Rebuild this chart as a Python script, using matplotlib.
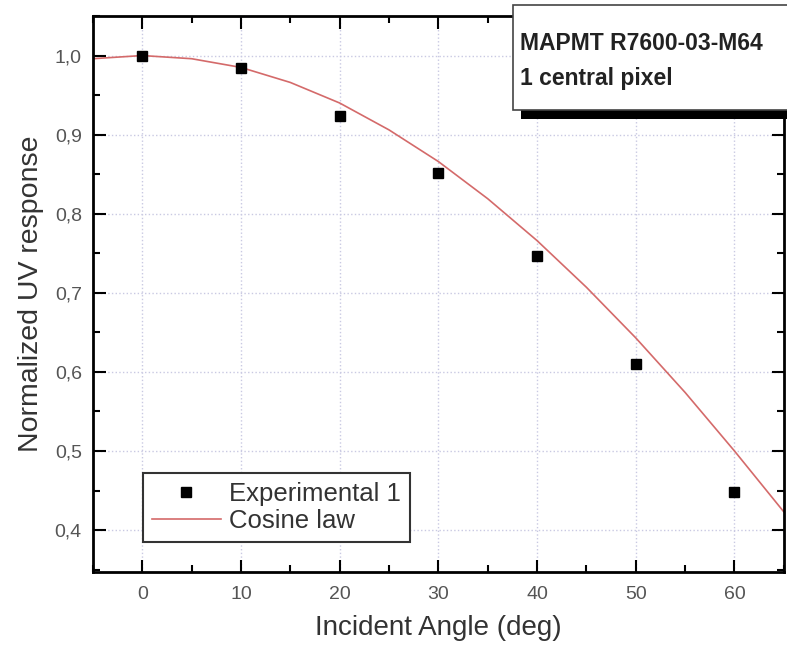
import matplotlib.pyplot as plt
from matplotlib.patches import Rectangle
from matplotlib.ticker import MultipleLocator, FuncFormatter

plt.rcParams['font.family'] = ['Liberation Sans', 'DejaVu Sans']

# measured points
angle = [0, 10, 20, 30, 40, 50, 60]
response = [1.0, 0.984, 0.924, 0.852, 0.746, 0.610, 0.448]

# cosine law curve
law_angle = [-5, 0, 5, 10, 15, 20, 25, 30, 35, 40, 45, 50, 55, 60, 65]
law_resp = [0.996, 1.0, 0.996, 0.985, 0.966, 0.940, 0.906, 0.866, 0.819,
            0.766, 0.707, 0.643, 0.574, 0.500, 0.423]

fig = plt.figure(figsize=(7.87, 6.53), dpi=100)
ax = fig.add_axes([0.118, 0.124, 0.878, 0.8515])

ax.plot(law_angle, law_resp, color='#d46a6a', lw=1.2, label='Cosine law', zorder=2)
ax.plot(angle, response, 's', color='black', ms=7.8, label='Experimental 1', zorder=3)

ax.set_xlim(-5, 65)
ax.set_ylim(0.347, 1.05)
ax.xaxis.set_major_locator(MultipleLocator(10))
ax.xaxis.set_minor_locator(MultipleLocator(5))
ax.yaxis.set_major_locator(MultipleLocator(0.1))
ax.yaxis.set_minor_locator(MultipleLocator(0.05))
ax.yaxis.set_major_formatter(FuncFormatter(lambda v, p: ('%.1f' % v).replace('.', ',')))

ax.grid(True, which='major', color='#c9c9e2', ls=':', lw=1.0)
ax.tick_params(which='both', direction='in', top=True, right=True,
               labelsize=14, labelcolor='#555555', width=1.5)
ax.tick_params(axis='x', pad=10)
ax.tick_params(axis='y', pad=8)
ax.tick_params(which='major', length=9)
ax.tick_params(which='minor', length=5)
for s in ax.spines.values():
    s.set_linewidth(2)

ax.set_xlabel('Incident Angle (deg)', fontsize=20, color='#333333', labelpad=9)
ax.set_ylabel('Normalized UV response', fontsize=20.5, color='#333333', labelpad=8)

leg = ax.legend(handles=ax.get_lines()[::-1], loc='lower left',
                bbox_to_anchor=(0.072, 0.054), fancybox=False, fontsize=18.5,
                edgecolor='#333333', framealpha=1, borderaxespad=0,
                handlelength=2.7, handletextpad=0.3, labelspacing=0.1,
                borderpad=0.35, numpoints=1)
leg.get_frame().set_linewidth(1.5)
for t in leg.get_texts():
    t.set_color('#333333')

# info box with drop shadow, in figure pixels
W, H = 787.0, 653.0
fig.patches.append(Rectangle((521 / W, 1 - 119 / H), 300 / W, 105 / H,
                             transform=fig.transFigure, facecolor='black',
                             edgecolor='none', zorder=5))
fig.patches.append(Rectangle((513 / W, 1 - 110 / H), 300 / W, 105 / H,
                             transform=fig.transFigure, facecolor='white',
                             edgecolor='#444444', lw=1.2, zorder=6))
fig.text(520 / W, 1 - 43 / H, 'MAPMT R7600-03-M64', fontsize=16.5,
         color='#222222', weight='bold', va='center', zorder=7)
fig.text(520 / W, 1 - 78 / H, '1 central pixel', fontsize=16.5,
         color='#222222', weight='bold', va='center', zorder=7)

fig.savefig('out.png', dpi=100)
